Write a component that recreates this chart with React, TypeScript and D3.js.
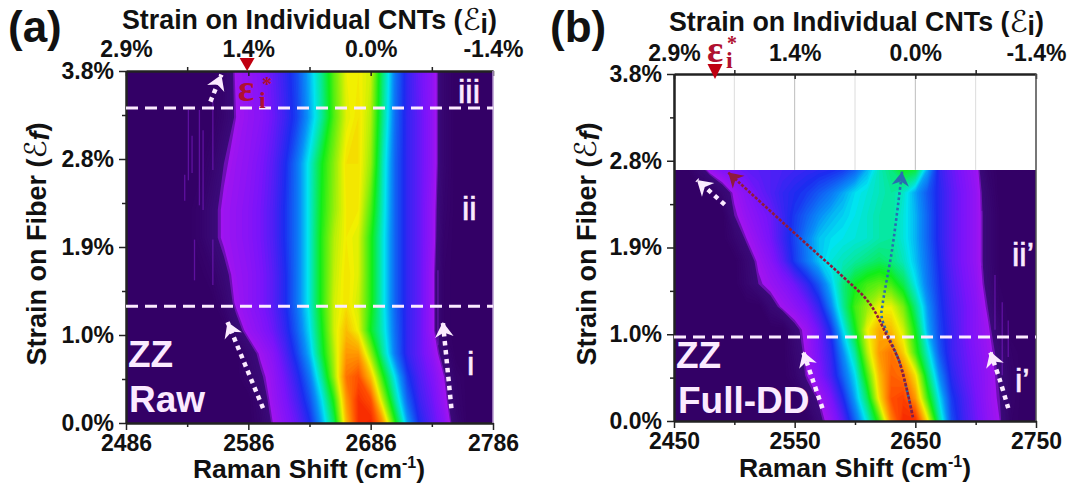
import { useEffect, useRef } from 'react';
import * as d3 from 'd3';

// Panel (a) Raw
const shiftsA = d3.range(2486, 2787, 10);
const strainRowsA = [0, 0.25, 0.5, 0.75, 1, 1.3, 1.6, 2, 2.3, 2.8, 3.3, 3.8];
const intensityA = [
  [0,0,0,0,0,0,0,0,0,0,0,4,11,16,21,28,40,54,80,96,98,84,60,40,28,22,16,6,0,0,0],
  [0,0,0,0,0,0,0,0,0,0,0,6,13,18,24,32,44,60,84,96,92,70,50,34,25,20,13,4,0,0,0],
  [0,0,0,0,0,0,0,0,0,0,4,9,14,20,27,36,50,68,88,92,80,60,44,30,23,18,11,3,0,0,0],
  [0,0,0,0,0,0,0,0,0,0,6,12,16,23,31,41,56,70,84,84,68,50,36,26,21,15,7,0,0,0,0],
  [0,0,0,0,0,0,0,0,0,7,13,16,20,26,34,44,58,72,80,74,58,47,35,26,21,13,2,0,0,0,0],
  [0,0,0,0,0,0,0,0,5,12,15,18,22,28,36,46,60,72,76,72,60,46,34,26,21,13,2,0,0,0,0],
  [0,0,0,0,0,0,0,3,8,13,15,18,22,28,36,46,60,71,76,73,60,46,34,26,21,13,2,0,0,0,0],
  [0,0,0,0,0,0,3,8,12,14,16,19,23,29,36,46,60,70,75,73,60,46,34,26,21,14,3,0,0,0,0],
  [0,0,0,0,0,0,3,8,12,14,16,19,23,29,36,46,59,68,75,75,63,47,34,26,21,14,4,0,0,0,0],
  [0,0,0,0,0,0,0,4,10,13,15,18,22,28,36,46,58,67,76,76,68,48,34,26,21,15,5,0,0,0,0],
  [0,0,0,0,0,0,0,0,5,11,14,16,20,25,31,40,50,63,73,76,70,51,35,26,21,15,5,0,0,0,0],
  [0,0,0,0,0,0,0,0,4,12,14,17,21,26,32,41,51,64,74,75,72,52,36,26,20,15,5,0,0,0,0],
];
const ticksA = [2486, 2586, 2686, 2786];
const minorTicksA = [2536, 2636, 2736];
const dashedStrainA = [3.4, 1.26];
const streaksA = [
  [2537, 2.62, 3.38], [2540, 2.7, 3.1], [2546, 2.35, 3.38], [2534, 2.4, 2.68], [2549, 2.3, 3.16],
  [2557, 2.73, 3.49], [2542, 1.54, 1.98], [2557, 1.49, 1.98], [2741, 0.84, 1.65],
];
const arrowsA = [
  [[2555, 3.47], [2564, 3.76]],
  [[2598, 0.16], [2569, 1.09]],
  [[2752, 0.16], [2745, 1.09]],
];

// Panel (b) Full-DD
const shiftsB = d3.range(2450, 2751, 10);
const strainRowsB = [0, 0.25, 0.5, 0.75, 1, 1.25, 1.5, 1.75, 2, 2.25, 2.5, 2.75];
const intensityB = [
  [0,0,0,0,0,0,0,0,0,0,0,0,8,14,22,34,46,62,86,97,97,76,50,32,25,20,15,11,2,0,0],
  [0,0,0,0,0,0,0,0,0,0,0,6,11,18,28,40,54,76,92,94,84,62,44,30,24,19,14,10,3,0,0],
  [0,0,0,0,0,0,0,0,0,0,4,11,17,24,34,44,62,80,90,88,76,54,38,27,22,18,14,9,3,0,0],
  [0,0,0,0,0,0,0,0,0,0,6,12,19,26,38,50,70,84,88,78,62,47,33,25,21,17,13,8,2,0,0],
  [0,0,0,0,0,0,0,0,0,0,8,13,20,29,44,58,74,82,80,72,58,41,31,25,20,16,12,5,0,0,0],
  [0,0,0,0,0,0,0,0,7,12,15,19,26,37,50,62,68,74,74,66,52,39,30,24,20,16,10,2,0,0,0],
  [0,0,0,0,0,0,5,10,13,16,20,26,33,42,52,58,62,64,62,55,45,36,29,23,19,15,8,1,0,0,0],
  [0,0,0,0,0,0,6,12,16,22,30,36,42,46,48,50,52,54,52,48,42,35,28,22,18,14,7,1,0,0,0],
  [0,0,0,0,0,5,11,15,19,25,31,37,42,44,45,46,47,49,50,46,41,34,27,22,18,14,7,1,0,0,0],
  [0,0,0,0,0,10,14,17,20,25,30,34,38,41,43,45,47,49,50,46,41,34,27,22,18,14,7,1,0,0,0],
  [0,0,0,0,6,12,16,20,23,26,28,30,33,36,40,44,46,48,50,47,40,33,27,22,18,14,6,0,0,0,0],
  [0,0,6,13,17,19,21,22,23,24,25,26,27,28,30,34,41,48,52,58,56,40,26,21,17,13,4,0,0,0,0],
];
const ticksB = [2450, 2550, 2650, 2750];
const minorTicksB = [2500, 2600, 2700];
const dashedStrainB = [0.92];
const streaksB = [[2722, 0.5, 1.3], [2727, 0.7, 1.1], [2716, 1.0, 1.6], [2705, 1.7, 2.3]];
const arrowsB = [
  [[2492, 2.37], [2469, 2.64]],
  [[2573, 0.14], [2565, 0.45], [2557, 0.76]],
  [[2727, 0.14], [2720, 0.45], [2712, 0.76]],
];
const redPathB = [[2648, 0.04], [2637, 0.64], [2627, 0.92], [2612, 1.29], [2590, 1.58], [2563, 1.9], [2495, 2.72]];
const bluePathB = [[2648, 0.04], [2637, 0.64], [2627, 0.95], [2622, 1.15], [2623, 1.29], [2631, 1.9], [2639, 2.73]];

// Shared axis labels
const strainTicks = [0, 0.95, 1.9, 2.85, 3.8];
const strainMinor = [0.475, 1.425, 2.375, 3.325];
const strainLabels = ['0.0%', '1.0%', '1.9%', '2.8%', '3.8%'];
const cntLabels = ['2.9%', '1.4%', '0.0%', '-1.4%'];

const levelStops = [0, 9, 11, 18, 28, 38, 44, 58, 74, 83, 92, 100];
const levelColors = ['#330066', '#3a0a78', '#a014f0', '#7a14fa', '#1c2cf0', '#0890f8', '#00e4f0', '#10ee18', '#f2f000', '#ff9c00', '#ff4a00', '#f01000'];
const color = d3.scaleLinear<string>().domain(levelStops).range(levelColors).clamp(true);

const FONT = '"Liberation Sans", Arial, sans-serif';
const LAV = '#fbeaff';

interface PanelDef {
  id: string;
  left: number; right: number; top: number; bottom: number;
  domain: [number, number];
  shifts: number[];
  rows: number[];
  values: number[][];
  heatTop: number;
  ticks: number[];
  minor: number[];
  dashed: number[];
  streaks: number[][];
  arrows: number[][][];
  letter: string; letterX: number;
  titleX: number; titleY: number;
  topLabelY: number;
  xTitleX: number; xTitleY: number;
  yTitleX: number; yTitleY: number;
  names: [string, number, number][];
  romans: [string, number, number][];
}

const panels: PanelDef[] = [
  {
    id: 'a', left: 126, right: 493, top: 71, bottom: 423, domain: [2486, 2786],
    shifts: shiftsA, rows: strainRowsA, values: intensityA, heatTop: 3.8,
    ticks: ticksA, minor: minorTicksA, dashed: dashedStrainA, streaks: streaksA, arrows: arrowsA,
    letter: '(a)', letterX: 8, titleX: 122, titleY: 29, topLabelY: 57,
    xTitleX: 309, xTitleY: 478, yTitleX: 46, yTitleY: 244,
    names: [['ZZ', 128, 367], ['Raw', 129, 412]],
    romans: [['iii', 458, 103], ['ii', 462, 220], ['i', 467, 375]],
  },
  {
    id: 'b', left: 674, right: 1036, top: 74, bottom: 421, domain: [2450, 2750],
    shifts: shiftsB, rows: strainRowsB, values: intensityB, heatTop: 2.75,
    ticks: ticksB, minor: minorTicksB, dashed: dashedStrainB, streaks: streaksB, arrows: arrowsB,
    letter: '(b)', letterX: 550, titleX: 669, titleY: 31, topLabelY: 61,
    xTitleX: 855, xTitleY: 477, yTitleX: 596, yTitleY: 244,
    names: [['ZZ', 676, 368], ['Full-DD', 678, 413]],
    romans: [['ii’', 1012, 266], ['i’', 1015, 392]],
  },
];

export default function App() {
  const ref = useRef<SVGSVGElement>(null);

  useEffect(() => {
    if (!ref.current) return;
    const svg = d3.select(ref.current);
    svg.selectAll('*').remove();
    svg.append('rect').attr('width', 1080).attr('height', 496).attr('fill', '#fff');

    panels.forEach((p) => {
      const g = svg.append('g');
      const x = d3.scaleLinear().domain(p.domain).range([p.left, p.right]);
      const y = d3.scaleLinear().domain([0, 3.8]).range([p.bottom, p.top]);

      // grid lines only show in the empty part of panel b
      if (p.heatTop < 3.8) {
        [...p.ticks, ...p.minor].forEach((t) => {
          g.append('line')
            .attr('x1', x(t)).attr('x2', x(t)).attr('y1', p.top).attr('y2', y(p.heatTop))
            .attr('stroke', p.ticks.includes(t) ? '#bdbdbd' : '#dcdcdc').attr('stroke-width', 1);
        });
      }

      // heatmap: filled contours of the intensity grid
      const clipId = `clip-${p.id}`;
      svg.append('clipPath').attr('id', clipId).append('rect')
        .attr('x', p.left).attr('width', p.right - p.left)
        .attr('y', y(p.heatTop)).attr('height', p.bottom - y(p.heatTop));
      const heat = g.append('g').attr('clip-path', `url(#${clipId})`);
      heat.append('rect')
        .attr('x', p.left).attr('width', p.right - p.left)
        .attr('y', y(p.heatTop)).attr('height', p.bottom - y(p.heatTop))
        .attr('fill', color(0));

      const n = p.shifts.length;
      const m = p.rows.length;
      const colToShift = d3.scaleLinear().domain(d3.range(n)).range(p.shifts);
      const rowToStrain = d3.scaleLinear().domain(d3.range(m)).range(p.rows);
      const project = d3.geoTransform({
        point(px: number, py: number) {
          (this as any).stream.point(x(colToShift(px - 0.5)), y(rowToStrain(py - 0.5)));
        },
      });
      const path = d3.geoPath(project);
      const contours = d3.contours().size([n, m]).thresholds(d3.range(1, 100))(p.values.flat());
      heat.selectAll('path.level').data(contours).enter().append('path')
        .attr('class', 'level')
        .attr('d', (d: any) => path(d))
        .attr('fill', (d: any) => color(d.value));

      // faint spikes next to the band edges
      heat.selectAll('line.streak').data(p.streaks).enter().append('line')
        .attr('class', 'streak')
        .attr('x1', (d) => x(d[0])).attr('x2', (d) => x(d[0]))
        .attr('y1', (d) => y(d[1])).attr('y2', (d) => y(d[2]))
        .attr('stroke', '#8a20d8').attr('stroke-width', 1.3).attr('opacity', 0.5);

      // axes
      const labelled = (axis: any, labels: string[]) =>
        axis.tickSizeOuter(0).tickPadding(5).tickFormat((_: any, i: number) => labels[i]);
      const styleAxis = (sel: any) => {
        sel.selectAll('text')
          .attr('font-family', FONT).attr('font-weight', 700).attr('font-size', 23).attr('fill', '#111');
        sel.selectAll('line').attr('stroke', '#222').attr('stroke-width', 1.5);
        sel.select('.domain').attr('stroke', '#222').attr('stroke-width', 2);
      };
      const minorAxis = (axis: any) => axis.tickSize(4).tickSizeOuter(0).tickFormat(() => '');

      g.append('g').attr('transform', `translate(0,${p.bottom})`)
        .call(labelled(d3.axisBottom(x).tickValues(p.ticks).tickSize(7), p.ticks.map(String)))
        .call(styleAxis);
      g.append('g').attr('transform', `translate(0,${p.bottom})`)
        .call(minorAxis(d3.axisBottom(x).tickValues(p.minor))).call(styleAxis);
      g.append('g').attr('transform', `translate(${p.left},0)`)
        .call(labelled(d3.axisLeft(y).tickValues(strainTicks).tickSize(7), strainLabels))
        .call(styleAxis);
      g.append('g').attr('transform', `translate(${p.left},0)`)
        .call(minorAxis(d3.axisLeft(y).tickValues(strainMinor))).call(styleAxis);
      const topAxis = g.append('g').attr('transform', `translate(0,${p.top})`)
        .call(labelled(d3.axisTop(x).tickValues(p.ticks).tickSize(-5), cntLabels))
        .call(styleAxis);
      topAxis.selectAll('text').attr('y', p.topLabelY - p.top).attr('dy', 0);
      g.append('g').attr('transform', `translate(0,${p.top})`)
        .call(minorAxis(d3.axisTop(x).tickValues(p.minor).tickSize(-4))).call(styleAxis);
      g.append('line')
        .attr('x1', p.right).attr('x2', p.right).attr('y1', p.top).attr('y2', p.bottom)
        .attr('stroke', p.heatTop < 3.8 ? '#555' : '#b79ad0').attr('stroke-width', 1.5);

      // dashed strain markers
      p.dashed.forEach((s) => {
        g.append('line')
          .attr('x1', p.left).attr('x2', p.right).attr('y1', y(s)).attr('y2', y(s))
          .attr('stroke', LAV).attr('stroke-width', 3).attr('stroke-dasharray', '12 7');
      });

      // white dotted arrows
      const arrowLine = d3.line<number[]>().x((d) => x(d[0])).y((d) => y(d[1])).curve(d3.curveCatmullRom);
      const drawArrow = (pts: number[][], stroke: string, width: number, dash: string, head: number) => {
        const a = pts[pts.length - 2];
        const b = pts[pts.length - 1];
        const tx = x(b[0]);
        const ty = y(b[1]);
        const ang = Math.atan2(ty - y(a[1]), tx - x(a[0]));
        g.append('path').attr('d', arrowLine(pts)).attr('fill', 'none')
          .attr('stroke', stroke).attr('stroke-width', width).attr('stroke-dasharray', dash);
        const h = d3.path();
        h.moveTo(0, 0);
        h.lineTo(-head, -head * 0.62);
        h.lineTo(-head * 0.7, 0);
        h.lineTo(-head, head * 0.62);
        h.closePath();
        g.append('path').attr('d', h.toString()).attr('fill', stroke)
          .attr('transform', `translate(${tx},${ty}) rotate(${(ang * 180) / Math.PI})`);
      };
      p.arrows.forEach((pts) => drawArrow(pts, LAV, 4.5, '4.5 4.5', 15));
      if (p.id === 'b') {
        drawArrow(bluePathB, '#2a6cb0', 2.6, '2.6 2.6', 14);
        drawArrow(redPathB, '#8f1a3c', 2.6, '3 1.6', 14);
      }

      // text
      const text = (t: string, tx: number, ty: number, size: number, weight = 700, fill = '#111') =>
        g.append('text').attr('x', tx).attr('y', ty).attr('font-family', FONT)
          .attr('font-size', size).attr('font-weight', weight).attr('fill', fill).text(t);

      text(p.letter, p.letterX, 42, 44);
      p.names.forEach(([t, tx, ty]) => text(t, tx, ty, 37, 700, LAV));
      p.romans.forEach(([t, tx, ty]) => text(t, tx, ty, 33, 400, LAV).attr('stroke', LAV).attr('stroke-width', 0.6));

      const title = text('Strain on Individual CNTs (', p.titleX, p.titleY, 26.8);
      title.append('tspan').attr('font-family', '"DejaVu Sans"').attr('font-style', 'italic').attr('font-weight', 400).attr('font-size', 30).attr('dy', 1).text('ℰ');
      title.append('tspan').attr('font-size', 26.8).attr('dy', 3).text('i');
      title.append('tspan').attr('font-size', 26.8).attr('dy', -4).text(')');

      const xTitle = text('Raman Shift (cm', p.xTitleX, p.xTitleY, 26.5).attr('text-anchor', 'middle');
      xTitle.append('tspan').attr('font-size', 16).attr('dy', -10).text('-1');
      xTitle.append('tspan').attr('dy', 10).text(')');

      const yTitle = text('Strain on Fiber (', 0, 0, 27).attr('text-anchor', 'middle')
        .attr('transform', `translate(${p.yTitleX},${p.yTitleY}) rotate(-90)`);
      yTitle.append('tspan').attr('font-family', '"DejaVu Sans"').attr('font-style', 'italic').attr('font-weight', 400).attr('font-size', 30).text('ℰ');
      yTitle.append('tspan').attr('dy', 3).attr('font-style', 'italic').text('f');
      yTitle.append('tspan').attr('dy', -3).text(')');

      // critical strain marker
      const RED = '#c00010';
      const critical = p.id === 'a' ? { s: 2585, ty: 58, tb: 71, ex: 238, ey: 101, sx: 262, sy: 91, ix: 259, iy: 108 }
        : { s: 2484, ty: 64, tb: 79, ex: 707, ey: 62, sx: 727, sy: 50, ix: 726, iy: 68 };
      const cx = x(critical.s);
      g.append('path')
        .attr('d', d3.line()([[cx - 7.5, critical.ty], [cx + 7.5, critical.ty], [cx, critical.tb]]) + 'Z')
        .attr('fill', RED);
      const serif = (t: string, tx: number, ty: number, size: number) =>
        g.append('text').attr('x', tx).attr('y', ty).attr('font-family', '"Liberation Serif", serif')
          .attr('font-weight', 700).attr('font-size', size).attr('fill', '#b01030').text(t);
      serif('ε', critical.ex, critical.ey, 38);
      serif('*', critical.sx, critical.sy, 20);
      serif('i', critical.ix, critical.iy, 24);
    });
  }, []);

  return <svg ref={ref} width={1080} height={496} style={{ position: 'fixed', left: 0, top: 0 }} />;
}
